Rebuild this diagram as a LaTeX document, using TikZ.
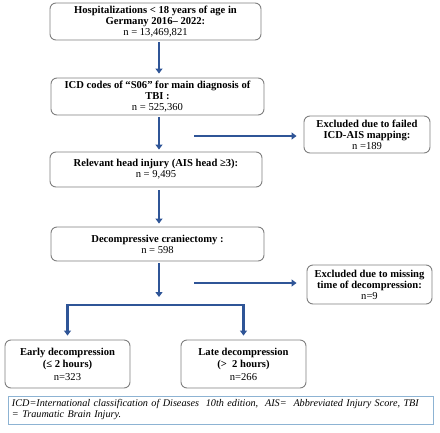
\documentclass[tikz,border=0pt]{standalone}
\usepackage{fontspec}
\setmainfont{Liberation Serif}
\usetikzlibrary{arrows.meta}
\definecolor{flowblue}{HTML}{2F5597}
\definecolor{boxgray}{HTML}{7F7F7F}
\definecolor{notecol}{HTML}{8DB3D3}
\tikzset{
  stepbox/.style={draw=boxgray, line width=0.9pt, rounded corners=6pt, fill=white,
    align=center, inner sep=2pt, font=\fontsize{10.6}{11}\selectfont},
  flow/.style={flowblue, line width=2.4pt, -{Triangle[width=7pt,length=5pt]}},
}
\begin{document}
\begin{tikzpicture}[x=1pt,y=-1pt]
    \useasboundingbox (0,0) rectangle (440,432);
    % main column
    \node[stepbox, minimum width=211pt, minimum height=37pt] (hosp) at (155.5,21.5)
        {\textbf{Hospitalizations < 18 years of age in}\\\textbf{Germany 2016– 2022:}\\n = 13,469,821};
    \node[stepbox, minimum width=213pt, minimum height=37pt] (icd) at (157.5,96.5)
        {\textbf{ICD codes of “S06” for main diagnosis of}\\\textbf{TBI :}\\n = 525,360};
    \node[stepbox, minimum width=212pt, minimum height=35pt] (head) at (156,169.5)
        {\textbf{Relevant head injury (AIS head ≥3):}\\n = 9,495};
    \node[stepbox, minimum width=213pt, minimum height=34pt] (crani) at (157.5,244)
        {\textbf{Decompressive craniectomy :}\\n = 598};
    % exclusions
    \node[stepbox, minimum width=126pt, minimum height=37pt] (failed) at (367,134.5)
        {\textbf{Excluded due to failed}\\\textbf{ICD-AIS mapping:}\\n =189};
    \node[stepbox, minimum width=125pt, minimum height=39pt] (missing) at (369.5,284.5)
        {\textbf{Excluded due to missing}\\\textbf{time of decompression:}\\n=9};
    % groups
    \node[stepbox, minimum width=125pt, minimum height=48pt, font=\fontsize{10.6}{12.5}\selectfont] (early) at (67.5,364)
        {\textbf{Early decompression}\\\textbf{(≤ 2 hours)}\\n=323};
    \node[stepbox, minimum width=125pt, minimum height=48pt, font=\fontsize{10.6}{12.5}\selectfont] (late) at (243.5,364)
        {\textbf{Late decompression}\\\textbf{(>\ \ 2 hours)}\\n=266};
    % note
    \node[draw=notecol, line width=0.9pt, minimum width=425pt, minimum height=28pt, text width=417pt,
        align=left, inner sep=3pt, font=\fontsize{10.2}{11}\selectfont\itshape] (note) at (220.5,410)
        {ICD=International classification of Diseases\ \ 10th edition,\ \ AIS=\ \ Abbreviated Injury Score, TBI\\= Traumatic Brain Injury.};
    % arrows
    \draw[flow, shorten <=2pt, shorten >=4pt] ([xshift=3.5pt]hosp.south) -- ([xshift=3.5pt]hosp.south |- icd.north);
    \draw[flow, shorten <=2pt, shorten >=2pt] ([xshift=1.5pt]icd.south) -- ([xshift=1.5pt]icd.south |- head.north);
    \draw[flow, shorten <=3pt, shorten >=3pt] ([xshift=3pt]head.south) -- ([xshift=3pt]head.south |- crani.north);
    \coordinate (split) at (159,297);
    \draw[flow, shorten <=2pt] ([xshift=1.5pt]crani.south) -- (split);
    \coordinate (bar) at (155,305);
    \draw[flow, {Triangle[width=7pt,length=5pt]}-{Triangle[width=7pt,length=5pt]}, shorten <=4pt, shorten >=4pt]
        (early.north) |- (bar) -| (late.north);
    \coordinate (out1) at (194,136);
    \draw[flow, shorten >=7pt] (out1) -- (out1 -| failed.west);
    \coordinate (out2) at (194,283);
    \draw[flow, shorten >=10pt] (out2) -- (out2 -| missing.west);
\end{tikzpicture}
\end{document}
